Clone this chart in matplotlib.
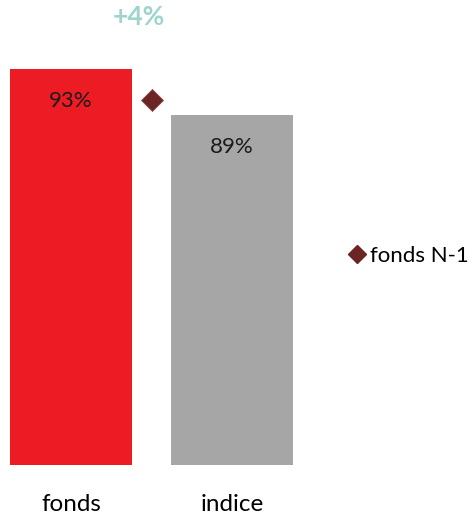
import matplotlib

matplotlib.use("Agg")
import matplotlib.pyplot as plt
from matplotlib.lines import Line2D

categories = ["fonds", "indice"]
values = [93, 89]
bar_colors = ["#ed1c24", "#a6a6a6"]
previous_value = 90.3
previous_label = "fonds N-1"
diff_label = "+4%"

plt.rcParams["font.family"] = ["Lato", "DejaVu Sans"]

fig = plt.figure(figsize=(4.74, 5.16), dpi=100)
ax = fig.add_axes([10 / 474, 51 / 516, 283 / 474, 465 / 516])

x = list(range(len(categories)))
bars = ax.bar(x, values, width=0.758, color=bar_colors)
ax.set_xlim(-0.379, len(categories) - 1 + 0.379)
ax.set_ylim(58.6, 99.03)

for b, v in zip(bars, values):
    ax.annotate(f"{v}%", (b.get_x() + b.get_width() / 2, v),
                xytext=(0, -23), textcoords="offset points",
                ha="center", va="center", fontsize=16, color="#1a1a1a")

# fonds N-1 marker sits between the two bars
mid = (x[0] + x[1]) / 2
ax.plot([mid], [previous_value], marker="D", markersize=11.5,
        color="#6b2525", markeredgecolor="#8a4a4a", markeredgewidth=0.6,
        linestyle="none")

fig.text(139 / 474, 1 - 17 / 516, diff_label, ha="center", va="center",
         fontsize=19, fontweight="bold", color="#9fd4ce")

ax.set_xticks(x)
ax.set_xticklabels(categories, fontsize=17.5)
ax.tick_params(axis="x", length=0, pad=21)
ax.set_yticks([])
for s in ax.spines.values():
    s.set_visible(False)

handle = Line2D([], [], marker="D", markersize=8.7, color="#6b2525",
                linestyle="none")
fig.legend([handle], [previous_label], loc="center left",
           bbox_to_anchor=(346 / 474, 1 - 256 / 516), frameon=False,
           fontsize=16, handletextpad=0.1, handlelength=1.0,
           borderaxespad=0, borderpad=0)

fig.savefig("out.png", dpi=100)
